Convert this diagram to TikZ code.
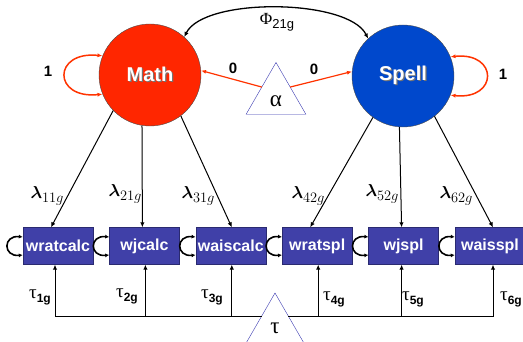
\documentclass[tikz,border=0pt]{standalone}
\usepackage{amsmath}
\usepackage{fontspec}
\setmainfont{Liberation Sans}
\newfontfamily\greekfont{Liberation Serif}
\usetikzlibrary{arrows.meta,positioning,shapes.geometric}
\definecolor{mathred}{HTML}{FF2600}
\definecolor{spellblue}{HTML}{0048CC}
\definecolor{boxblue}{HTML}{4040A8}
\definecolor{boxedge}{HTML}{2A2A70}
\definecolor{linkred}{HTML}{FF3300}
\definecolor{triblue}{HTML}{3838B0}
\newcommand{\shadowed}[1]{\makebox[0pt][l]{\hspace{1.3pt}\raisebox{-1.3pt}{\textcolor{black!55}{#1}}}\textcolor{white}{#1}}
\newcommand{\lowtext}[2]{\raisebox{-4pt}{\fontsize{#1}{#1}\selectfont #2}}

\begin{document}
\begin{tikzpicture}[
  x=1pt, y=-1pt,
  node distance=16pt,
  factor/.style={
    circle, draw=black!70, minimum size=102pt, inner sep=0pt,
    font=\fontsize{20}{24}\selectfont\bfseries
  },
  indicator/.style={
    draw=boxedge, fill=boxblue, minimum width=70pt, minimum height=37pt,
    inner sep=0pt, text=white, font=\fontsize{16}{18}\selectfont\bfseries
  },
  const/.style={
    regular polygon, regular polygon sides=3, draw=triblue, fill=white,
    minimum size=69pt, inner sep=0pt, outer sep=0pt,
    font=\greekfont\fontsize{23}{24}\selectfont
  },
  arrow/.style={-{Latex[length=5pt,width=4.5pt]}, line width=1pt},
  redarrow/.style={-{Latex[length=5pt,width=4pt]}, line width=1.2pt, color=linkred},
  redloop/.style={{Latex[length=5pt,width=4pt]}-{Latex[length=5pt,width=4pt]}, line width=1.5pt, color=linkred},
  resid/.style={{Latex[length=4pt,width=4pt]}-{Latex[length=4pt,width=4pt]}, line width=1.6pt},
  num/.style={font=\fontsize{15}{16}\selectfont\bfseries},
  lab/.style={font=\fontsize{18}{18}\selectfont},
  tlab/.style={font=\greekfont\fontsize{19}{20}\selectfont}
]
  \useasboundingbox (0,0) rectangle (523,342);
  % factors and constants
  \node[factor, fill=mathred] (math) at (150,75) {\shadowed{Math}};
  \node[factor, fill=spellblue] (spell) at (403,76) {\shadowed{Spell}};
  \node[const] (alpha) at (276,97) {\raisebox{-10pt}[0pt][0pt]{α}};
  \node[const, minimum size=66pt] (tau) at (275,326) {\raisebox{-8pt}[0pt][0pt]{τ}};
  % indicators
  \node[indicator] (wratcalc) at (58,246) {wratcalc};
  \node[indicator, right=of wratcalc] (wjcalc) {wjcalc};
  \node[indicator, right=of wjcalc] (waiscalc) {waiscalc};
  \node[indicator, right=of waiscalc] (wratspl) {wratspl};
  \node[indicator, right=of wratspl] (wjspl) {wjspl};
  \node[indicator, right=of wjspl] (waisspl) {waisspl};
  % labels
  \node[num] (var1) at (48,71) {1};
  \node[num] (var2) at (503,74) {1};
  \node[num] (mean1) at (233,68) {0};
  \node[num] (mean2) at (314,69) {0};
  \node[tlab, font=\greekfont\fontsize{17}{18}\selectfont] (phi) at (277,22) {Φ\lowtext{13}{\rmfamily 21g}};
  \node[lab] (l11) at (47,196) {$\boldsymbol{\lambda}$\lowtext{15}{$11g$}};
  \node[lab] (l21) at (125,194) {$\boldsymbol{\lambda}$\lowtext{15}{$21g$}};
  \node[lab] (l31) at (198,196) {$\boldsymbol{\lambda}$\lowtext{15}{$31g$}};
  \node[lab] (l42) at (308,196) {$\boldsymbol{\lambda}$\lowtext{15}{$42g$}};
  \node[lab] (l52) at (382,194) {$\boldsymbol{\lambda}$\lowtext{15}{$52g$}};
  \node[lab] (l62) at (456,196) {$\boldsymbol{\lambda}$\lowtext{15}{$62g$}};
  \node[tlab] (t1) at (40,297) {τ\lowtext{12}{\rmfamily\bfseries 1g}};
  \node[tlab] (t2) at (127,296) {τ\lowtext{12}{\rmfamily\bfseries 2g}};
  \node[tlab] (t3) at (212,297) {τ\lowtext{12}{\rmfamily\bfseries 3g}};
  \node[tlab] (t4) at (334,299) {τ\lowtext{12}{\rmfamily\bfseries 4g}};
  \node[tlab] (t5) at (413,299) {τ\lowtext{12}{\rmfamily\bfseries 5g}};
  \node[tlab] (t6) at (511,299) {τ\lowtext{12}{\rmfamily\bfseries 6g}};
  % variances and covariance
  \draw[redloop] (math.158) .. controls +(-50,-5) and +(-50,5) .. (math.202);
  \draw[redloop] (spell.22) .. controls +(48,-5) and +(48,5) .. (spell.338);
  \draw[{Latex[length=5pt,width=4.5pt]}-{Latex[length=5pt,width=4.5pt]}, line width=1.3pt]
    (math.48) .. controls +(20,-40) and +(-20,-40) .. (spell.133);
  % means
  \draw[redarrow] (alpha.145) -- (math.5);
  \draw[redarrow] (alpha.35) -- (spell.175);
  % loadings
  \draw[arrow] (math.224) -- ([xshift=-7pt]wratcalc.north);
  \draw[arrow] (math.261) -- ([xshift=-2pt]wjcalc.north);
  \draw[arrow] (math.307) -- ([xshift=1pt]waiscalc.north);
  \draw[arrow] (spell.234) -- ([xshift=-7pt]wratspl.north);
  \draw[arrow] (spell.266) -- ([xshift=-2pt]wjspl.north);
  \draw[arrow] (spell.308) -- ([xshift=3pt]waisspl.north);
  % intercepts
  \draw[arrow] (tau.144) -| ([xshift=-3pt]wratcalc.south);
  \draw[arrow] (tau.144) -| ([xshift=1pt]wjcalc.south);
  \draw[arrow] (tau.144) -| ([xshift=1pt]waiscalc.south);
  \draw[arrow] (tau.36) -| ([xshift=1pt]wratspl.south);
  \draw[arrow] (tau.36) -| ([xshift=-2pt]wjspl.south);
  \draw[arrow] (tau.36) -| ([xshift=3pt]waisspl.south);
  % residuals
  \draw[resid] ([yshift=9pt]wratcalc.west) .. controls +(-20,-2) and +(-20,2) .. ([yshift=-9pt]wratcalc.west);
  \draw[resid] ([yshift=9pt]wjcalc.west) .. controls +(-20,-2) and +(-20,2) .. ([yshift=-9pt]wjcalc.west);
  \draw[resid] ([yshift=9pt]waiscalc.west) .. controls +(-20,-2) and +(-20,2) .. ([yshift=-9pt]waiscalc.west);
  \draw[resid] ([yshift=9pt]wratspl.west) .. controls +(-20,-2) and +(-20,2) .. ([yshift=-9pt]wratspl.west);
  \draw[resid] ([yshift=9pt]wjspl.west) .. controls +(-20,-2) and +(-20,2) .. ([yshift=-9pt]wjspl.west);
  \draw[resid] ([yshift=9pt]waisspl.west) .. controls +(-20,-2) and +(-20,2) .. ([yshift=-9pt]waisspl.west);
\end{tikzpicture}
\end{document}
